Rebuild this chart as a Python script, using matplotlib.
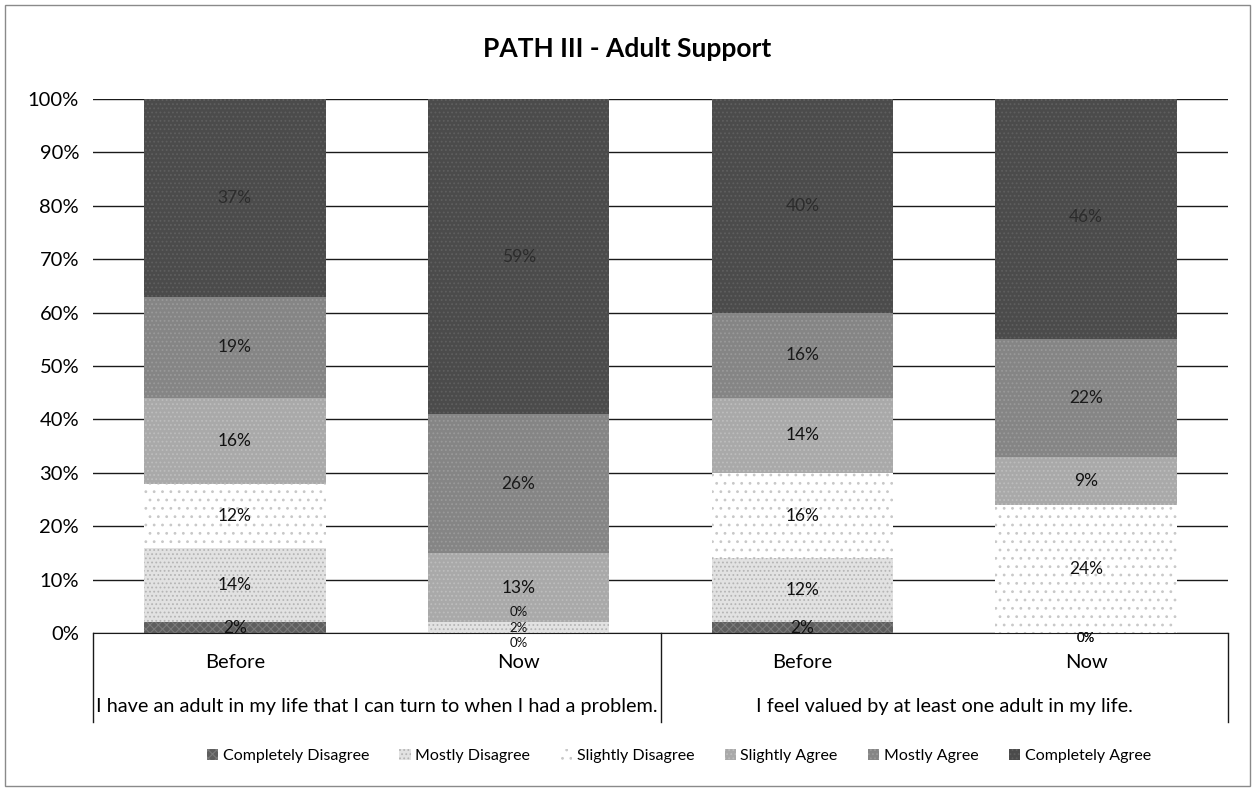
import numpy as np
import matplotlib
matplotlib.use("Agg")
import matplotlib.pyplot as plt
from matplotlib.lines import Line2D

plt.rcParams['font.family'] = ['Lato', 'DejaVu Sans']
plt.rcParams['hatch.linewidth'] = 0.8

# survey answers, one bar per time point
bar_labels = ["Before", "Now", "Before", "Now"]
questions = ["I have an adult in my life that I can turn to when I had a problem.",
             "I feel valued by at least one adult in my life."]
series = ["Completely Disagree", "Mostly Disagree", "Slightly Disagree",
          "Slightly Agree", "Mostly Agree", "Completely Agree"]

completely_disagree = [2, 0, 2, 0]
mostly_disagree = [14, 2, 12, 0]
slightly_disagree = [12, 0, 16, 24]
slightly_agree = [16, 13, 14, 9]
mostly_agree = [19, 26, 16, 22]
completely_agree = [37, 59, 40, 46]

values = [completely_disagree, mostly_disagree, slightly_disagree,
          slightly_agree, mostly_agree, completely_agree]

fills = ["#5e5e5e", "#e2e2e2", "#ffffff", "#a9a9a9", "#858585", "#4b4b4b"]
hatches = ["xxxx", "....", "..", "....", "....", "...."]
hatch_cols = ["#7a7a7a", "#b5b5b5", "#c8c8c8", "#bdbdbd", "#9a9a9a", "#5f5f5f"]
label_cols = ["#111111", "#111111", "#111111", "#111111", "#1a1a1a", "#2c2c2c"]

fig = plt.figure(figsize=(12.55, 7.91), dpi=100)
ax = fig.add_axes([0.0741, 0.1997, 0.9044, 0.6751])

x = np.arange(len(bar_labels))
bottom = np.zeros(len(bar_labels))
handles = []
for vals, name, fc, ht, hc, lc in zip(values, series, fills, hatches, hatch_cols, label_cols):
    vals = np.array(vals, dtype=float)
    bars = ax.bar(x, vals, 0.64, bottom=bottom, color=fc, hatch=ht,
                  edgecolor=hc, linewidth=0, zorder=2, label=name)
    handles.append(bars)
    for xi, b, v in zip(x, bottom, vals):
        ax.text(xi, b + v / 2, f"{int(v)}%", ha="center", va="center",
                fontsize=12.5, color=lc, zorder=3)
    bottom += vals

# tiny segments at the foot of a bar: spread their labels a little
for t in ax.texts:
    xi, yi = t.get_position()
    if yi < 3 and xi in (1, 3):
        t.set_fontsize(9.5)
        t.set_y({0.0: -1.9, 1.0: 1.0, 2.0: 3.9}.get(yi, yi) if xi == 1 else -0.9)

ax.set_xlim(-0.5, 3.5)
ax.set_ylim(0, 100)
ax.set_yticks(np.arange(0, 101, 10))
ax.set_yticklabels([f"{t}%" for t in range(0, 101, 10)], fontsize=14.5)
ax.tick_params(axis="y", length=0, pad=10)
ax.set_xticks([])
ax.yaxis.grid(True, color="#1a1a1a", linewidth=1.0, zorder=0)
ax.set_axisbelow(True)
for s in ["top", "right", "left"]:
    ax.spines[s].set_visible(False)
ax.spines["bottom"].set_color("#1a1a1a")

# two-level category axis below the bars
tr = ax.get_xaxis_transform()
for xi, lab in zip(x, bar_labels):
    ax.text(xi, -0.056, lab, transform=tr, ha="center", va="center", fontsize=14.5)
for gi, q in enumerate(questions):
    ax.text(gi * 2 + 0.5, -0.137, q, transform=tr, ha="center", va="center", fontsize=14.3)
for sx in [-0.5, 1.5, 3.5]:
    ax.add_line(Line2D([sx, sx], [0, -0.167], transform=tr, color="#1a1a1a",
                       linewidth=1.0, clip_on=False))

fig.suptitle("PATH III - Adult Support", y=0.953, fontsize=19, fontweight="bold")

fig.legend(handles=handles, labels=series, loc="center", bbox_to_anchor=(0.541, 0.044),
           ncol=6, frameon=False, fontsize=11.5, handlelength=0.7, handleheight=0.7,
           handletextpad=0.3, columnspacing=1.9)

# outer frame around the chart
fig.add_artist(plt.Rectangle((0.004, 0.006), 0.992, 0.988, transform=fig.transFigure,
                             fill=False, edgecolor="#8a8a8a", linewidth=1.0))

fig.savefig("out.png", dpi=100)
